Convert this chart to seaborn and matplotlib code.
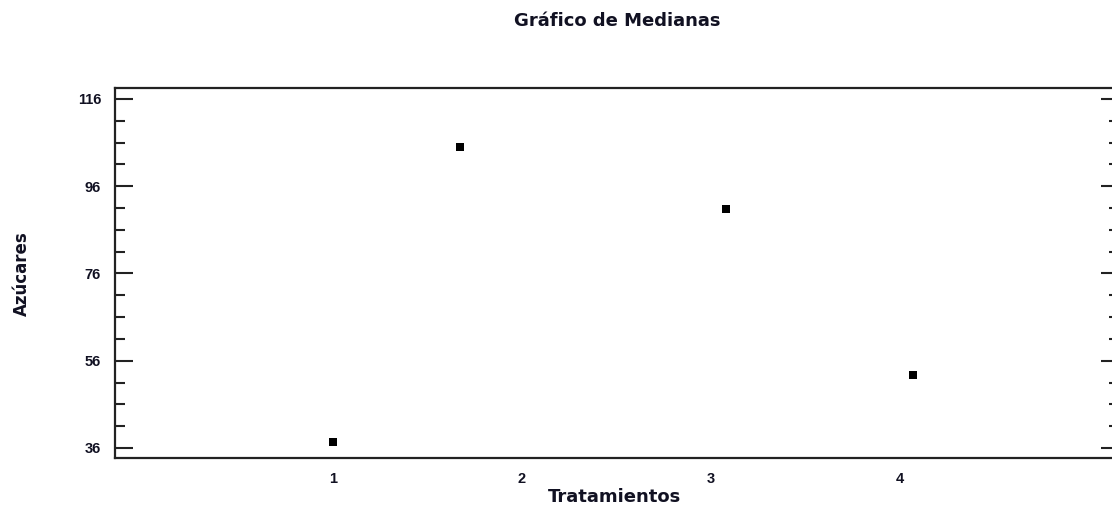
import matplotlib
matplotlib.use("Agg")
import matplotlib.pyplot as plt
import seaborn as sns
import pandas as pd
from matplotlib.ticker import MultipleLocator, FixedLocator

# Data
tratamiento_pos = [1.0, 1.67, 3.08, 4.07]
medianas = [37.3, 105.0, 90.8, 52.7]
x_ticks = [1, 2, 3, 4]
x_tick_labels = ["1", "2", "3", "4"]
y_ticks = [36, 56, 76, 96, 116]

df = pd.DataFrame({"Tratamientos": tratamiento_pos, "Azúcares": medianas})

sns.set_style("white")
plt.rcParams["font.family"] = ["Liberation Sans", "DejaVu Sans"]
plt.rcParams["font.weight"] = "bold"

fig = plt.figure(figsize=(11.12, 5.15), dpi=100)
ax = fig.add_axes([115 / 1112, 1 - 458 / 515, (1119 - 115) / 1112, (458 - 88) / 515])

sns.scatterplot(data=df, x="Tratamientos", y="Azúcares", marker="s", s=34,
                color="black", edgecolor="none", ax=ax, legend=False)

ax.set_xlim(-0.153, 5.159)
ax.set_ylim(33.7, 118.5)
ax.set_xticks(x_ticks)
ax.set_xticklabels(x_tick_labels)
ax.yaxis.set_major_locator(FixedLocator(y_ticks))
ax.yaxis.set_minor_locator(MultipleLocator(5, offset=1))

for sp in ax.spines.values():
    sp.set_color("#222222")
    sp.set_linewidth(1.6)
    sp.set_visible(True)

ax.tick_params(axis="x", which="both", length=0, pad=10, labelsize=10.5)
ax.tick_params(axis="y", which="major", direction="in", length=13, width=1.5,
               left=True, right=True, labelsize=10.5, pad=10, color="#222222")
ax.tick_params(axis="y", which="minor", direction="in", length=7, width=1.5,
               left=True, right=True, color="#222222")
for lab in ax.get_xticklabels() + ax.get_yticklabels():
    lab.set_fontweight("bold")
    lab.set_color("#111122")

ax.set_xlabel("Tratamientos", fontsize=13, fontweight="bold",
              family=["DejaVu Sans"], color="#111122")
ax.xaxis.set_label_coords((615 - 115) / 1004, (458 - 488) / 370)
ax.set_ylabel("Azúcares", fontsize=12, fontweight="bold",
              family=["DejaVu Sans"], color="#111122")
ax.yaxis.set_label_coords((31 - 115) / 1004, (458 - 274) / 370)
fig.text(617 / 1112, 1 - 21 / 515, "Gráfico de Medianas", ha="center", va="center",
         fontsize=13, fontweight="bold", family=["DejaVu Sans"], color="#111122")

fig.savefig("out.png", dpi=100)
